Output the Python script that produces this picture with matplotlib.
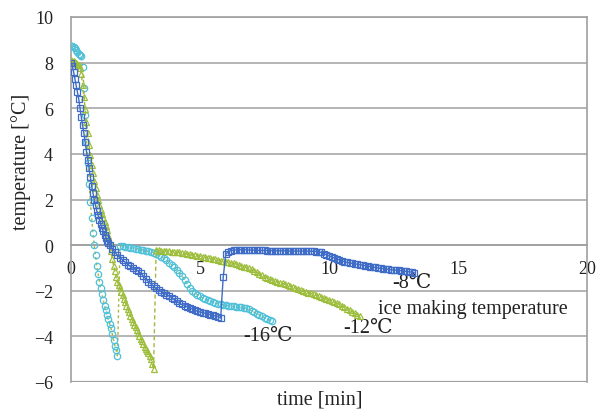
import numpy as np
import matplotlib
matplotlib.use("Agg")
import matplotlib.pyplot as plt

# ---------------- data ----------------
# Each series: a fast-sampled part (every 0.05 min from t=0) and a
# slow-sampled part (every 0.1 min from the given start time).
fast_step = 0.05
slow_step = 0.1

# -8 degC ice making temperature (dark blue squares)
m8_fast = [8.0, 7.85, 7.6, 7.3, 7.0, 6.7, 6.4, 6.0, 5.6, 5.25,
           4.9, 4.5, 4.1, 3.75, 3.4, 3.0, 2.6, 2.3, 2.0, 1.75,
           1.5, 1.3, 1.1, 0.92, 0.75, 0.6, 0.45, 0.32, 0.2, 0.1, 0.0]
m8_slow_start = 1.6
m8_slow = [-0.15, -0.3, -0.45, -0.55,
           -0.65, -0.75, -0.85, -0.93, -1.0, -1.07, -1.13, -1.22, -1.35, -1.48,
           -1.6, -1.7, -1.8, -1.9, -1.97, -2.04, -2.1, -2.17, -2.23, -2.3,
           -2.38, -2.46, -2.55, -2.6, -2.65, -2.7, -2.75, -2.8, -2.85, -2.9,
           -2.93, -2.96, -2.99, -3.02, -3.05, -3.08, -3.11, -3.13, -3.2, -1.4,
           -0.4, -0.28, -0.24, -0.22, -0.21, -0.2, -0.2, -0.2, -0.21, -0.21,
           -0.22, -0.22, -0.22, -0.23, -0.23, -0.23, -0.24, -0.24, -0.24, -0.24,
           -0.25, -0.25, -0.25, -0.25, -0.25, -0.26, -0.26, -0.26, -0.26, -0.26,
           -0.26, -0.26, -0.27, -0.27, -0.27, -0.28, -0.29, -0.32, -0.37, -0.42,
           -0.47, -0.52, -0.56, -0.6, -0.65, -0.69, -0.73, -0.76, -0.78, -0.8,
           -0.82, -0.84, -0.86, -0.88, -0.9, -0.92, -0.94, -0.96, -0.98, -1.0,
           -1.02, -1.03, -1.05, -1.06, -1.08, -1.09, -1.1, -1.11, -1.12, -1.14,
           -1.15, -1.17, -1.18, -1.2]

# -12 degC ice making temperature (yellow-green)
m12_fast = [8.1, 8.08, 8.05, 8.02, 8.0, 7.95, 7.9, 7.75, 7.5, 7.0,
            6.5, 5.95, 5.4, 4.9, 4.4, 3.95, 3.5, 3.15, 2.8, 2.5,
            2.2, 1.97, 1.75, 1.55, 1.35, 1.17, 1.0, 0.85, 0.65, 0.4,
            0.1, -0.25, -0.6, -0.9, -1.15, -1.4, -1.6, -1.75, -1.9, -2.05,
            -2.2, -2.35, -2.5, -2.65, -2.8, -2.95, -3.1, -3.22, -3.35, -3.48,
            -3.6, -3.72, -3.85, -3.97, -4.1, -4.22, -4.35, -4.45, -4.55, -4.65,
            -4.75, -4.87, -5.0, -5.2, -5.45]
m12_slow_start = 3.3
m12_slow = [-0.2, -0.22, -0.24, -0.25, -0.26, -0.27, -0.28,
            -0.3, -0.31, -0.32, -0.34, -0.36, -0.38, -0.4, -0.42, -0.44, -0.46,
            -0.48, -0.5, -0.52, -0.55, -0.58, -0.6, -0.62, -0.65, -0.68, -0.7,
            -0.72, -0.74, -0.77, -0.8, -0.83, -0.86, -0.9, -0.94, -0.98, -1.02,
            -1.06, -1.12, -1.18, -1.25, -1.32, -1.38, -1.44, -1.49, -1.53, -1.57,
            -1.6, -1.64, -1.68, -1.72, -1.76, -1.8, -1.84, -1.88, -1.92, -1.96,
            -2.0, -2.04, -2.08, -2.12, -2.16, -2.2, -2.24, -2.28, -2.32, -2.36,
            -2.4, -2.45, -2.5, -2.55, -2.6, -2.66, -2.72, -2.78, -2.85, -2.92,
            -2.98, -3.05, -3.12]

# -16 degC ice making temperature (cyan circles)
m16_fast = [8.75, 8.72, 8.7, 8.62, 8.55, 8.48, 8.4, 8.35, 8.3, 7.8,
            6.9, 5.7, 4.5, 3.6, 2.7, 1.9, 1.2, 0.55, 0.0, -0.45,
            -0.9, -1.25, -1.6, -1.9, -2.15, -2.4, -2.65, -2.85, -3.05, -3.25,
            -3.45, -3.65, -3.9, -4.15, -4.4, -4.6, -4.85]
m16_slow_start = 1.9
m16_slow = [-0.02,
            -0.05, -0.07, -0.09, -0.11, -0.13, -0.15, -0.17, -0.2, -0.22, -0.25,
            -0.27, -0.3, -0.33, -0.37, -0.43, -0.5, -0.58, -0.67, -0.77, -0.87,
            -0.97, -1.08, -1.2, -1.35, -1.52, -1.7, -1.88, -2.0, -2.1, -2.18,
            -2.25, -2.31, -2.36, -2.41, -2.45, -2.49, -2.53, -2.56, -2.59, -2.61,
            -2.63, -2.65, -2.67, -2.69, -2.7, -2.71, -2.72, -2.74, -2.77, -2.82,
            -2.88, -2.94, -3.0, -3.06, -3.12, -3.18, -3.23, -3.28, -3.32]

series_labels = ["-8℃", "-12℃", "-16℃"]
note_text = "ice making temperature"
x_ticks = [0, 5, 10, 15, 20]
y_ticks = [-6, -4, -2, 0, 2, 4, 6, 8, 10]


def series(fast, slow_start, slow):
    t = np.concatenate([np.arange(len(fast)) * fast_step,
                        slow_start + np.arange(len(slow)) * slow_step])
    return t, np.array(fast + slow)


# ---------------- plotting ----------------
serif = ["Liberation Serif", "DejaVu Serif", "Noto Sans CJK JP"]
plt.rcParams["font.family"] = serif

fig = plt.figure(figsize=(5.98, 4.10), dpi=100)
ax = fig.add_axes([71 / 598, 27 / 410, 516 / 598, 365 / 410])

c_blue = "#3E6CC6"
c_green = "#9DBE3C"
c_cyan = "#4FC0DA"
c_olive = "#A9B640"

t16, y16 = series(m16_fast, m16_slow_start, m16_slow)
t12, y12 = series(m12_fast, m12_slow_start, m12_slow)
t8, y8 = series(m8_fast, m8_slow_start, m8_slow)

ax.plot(t16, y16, linestyle=(0, (2, 2)), linewidth=1.0, color=c_olive,
        marker="o", markersize=4.6, markerfacecolor="none", markeredgecolor=c_cyan,
        markeredgewidth=0.9, zorder=3)
ax.plot(t12, y12, linestyle=(0, (3, 2)), linewidth=1.0, color=c_olive,
        marker="^", markersize=4.4, markerfacecolor="none", markeredgecolor=c_green,
        markeredgewidth=0.9, zorder=4)
ax.plot(t8, y8, linestyle="-", linewidth=1.0, color=c_blue,
        marker="s", markersize=4.4, markerfacecolor="none", markeredgecolor=c_blue,
        markeredgewidth=0.9, zorder=5)

ax.set_xlim(0, 20)
ax.set_ylim(-6, 10)
ax.set_xticks(x_ticks)
ax.set_yticks(y_ticks)
ax.grid(axis="y", color="#A8A8A8", linewidth=1.2)
ax.set_axisbelow(True)

for side in ["left", "right", "top", "bottom"]:
    ax.spines[side].set_color("#A0A0A0")
    ax.spines[side].set_linewidth(1.2)
ax.spines["bottom"].set_position(("data", 0))
ax.axhline(-6, color="#A0A0A0", linewidth=1.6, zorder=1)

ax.tick_params(axis="both", length=0, labelsize=13, colors="#222222")
ax.tick_params(axis="x", pad=11)
ax.tick_params(axis="y", pad=13)

ax.set_ylabel("temperature [°C]", fontsize=14.5, color="#222222")
ax.yaxis.set_label_coords(-0.077, 0.605)
ax.set_xlabel("time [min]", fontsize=14.5, color="#222222", va="top")
ax.xaxis.set_label_coords(0.483, -0.02)

ax.text(12.44, -1.62, series_labels[0], fontsize=14.5, va="center", ha="left",
        family=serif, color="#222222")
ax.text(10.54, -3.59, series_labels[1], fontsize=14.5, va="center", ha="left",
        family=serif, color="#222222")
ax.text(6.67, -3.94, series_labels[2], fontsize=14.5, va="center", ha="left",
        family=serif, color="#222222")
ax.text(11.9, -2.8, note_text, fontsize=14.5, va="center", ha="left",
        family=serif, color="#222222")

fig.savefig("out.png", dpi=100)
